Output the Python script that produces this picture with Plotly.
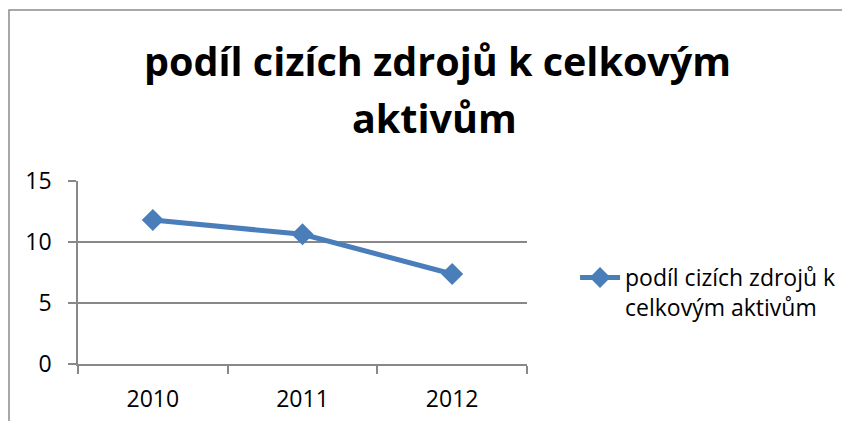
import plotly.graph_objects as go

years = ["2010", "2011", "2012"]
values = [11.8, 10.63, 7.38]
series_name = "podíl cizích zdrojů k<br>celkovým aktivům"
title_line1 = "podíl cizích zdrojů k celkovým"
title_line2 = "aktivům"

FONT = "Open Sans"
BLUE = "#4A7EBB"
GRAY = "#888888"
TITLE_FONT = dict(family=FONT, size=39.5, color="black", weight="bold")

fig = go.Figure()
fig.add_trace(go.Scatter(
    x=years, y=values, mode="lines+markers", name=series_name,
    line=dict(color=BLUE, width=5),
    marker=dict(symbol="diamond", size=17, color=BLUE),
))

fig.update_layout(
    width=850, height=421,
    margin=dict(l=70, r=331, t=173, b=65),
    paper_bgcolor="white", plot_bgcolor="white",
    font=dict(family=FONT, color="black", size=23),
    showlegend=True,
    legend=dict(x=1.107, xanchor="left", y=0.59, yanchor="top",
                font=dict(family=FONT, size=23, color="black"),
                valign="top", bgcolor="rgba(0,0,0,0)", itemwidth=40),
    xaxis=dict(type="category", range=[-0.5, 2.5], tickson="boundaries",
               ticks="outside", ticklen=8, tickcolor=GRAY, tickwidth=1.5,
               showline=True, linecolor=GRAY, linewidth=1.5,
               showgrid=False, tickfont=dict(size=23), ticklabelstandoff=14),
    yaxis=dict(range=[0, 15], dtick=5, tick0=0, ticks="outside", ticklen=8,
               tickcolor=GRAY, tickwidth=1.5,
               showline=True, linecolor=GRAY, linewidth=1.5,
               showgrid=True, gridcolor=GRAY, gridwidth=1.5,
               zeroline=False, tickfont=dict(size=23), ticklabelstandoff=12),
    annotations=[
        dict(text=title_line1, xref="paper", yref="paper", x=0.7996, y=1.6536,
             xanchor="center", yanchor="middle", showarrow=False, font=TITLE_FONT),
        dict(text=title_line2, xref="paper", yref="paper", x=0.795, y=1.342,
             xanchor="center", yanchor="middle", showarrow=False, font=TITLE_FONT),
    ],
    shapes=[dict(type="rect", xref="paper", yref="paper",
                 x0=-0.1537, x1=2.5, y0=-1.0, y1=1.934,
                 line=dict(color="#8c8c8c", width=1.5), fillcolor="rgba(0,0,0,0)",
                 layer="below")],
)

fig.write_html("out.html")
